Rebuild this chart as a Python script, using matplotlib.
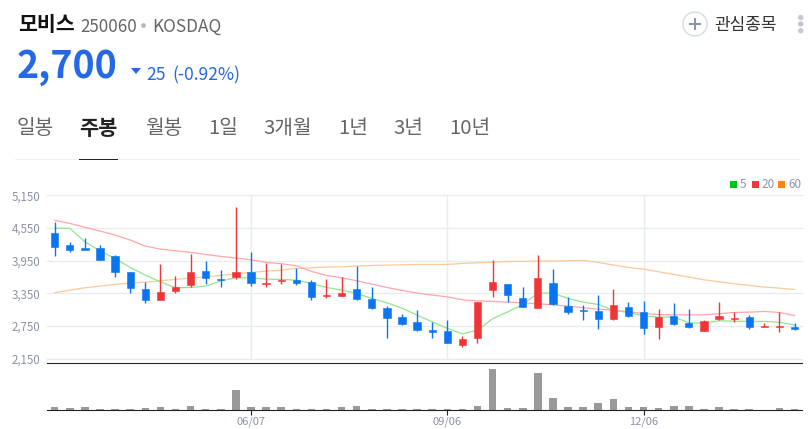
import matplotlib
matplotlib.use('Agg')
import matplotlib.pyplot as plt
from matplotlib.patches import Circle, Polygon, Rectangle
from matplotlib.transforms import IdentityTransform

plt.rcParams['font.family'] = ['Noto Sans CJK KR', 'DejaVu Sans']

W, H = 808, 429

opens = [4450, 4229, 4174, 4180, 4033, 3732, 3432, 3229, 3395, 3493, 3757, 3609, 3646, 3738, 3517, 3579, 3591,
         3548, 3297, 3297, 3432, 3241, 3076, 2910, 2818, 2665, 2653, 2401, 2518, 3413, 3524, 3260, 3076, 3536,
         3113, 3045, 3021, 2880, 3094, 3002, 2726, 2929, 2800, 2659, 2874, 2880, 2910, 2726, 2733, 2726]
closes = [4204, 4149, 4137, 3965, 3738, 3450, 3223, 3370, 3462, 3738, 3622, 3585, 3738, 3530, 3530, 3591, 3542,
          3284, 3309, 3352, 3248, 3082, 2898, 2788, 2665, 2640, 2444, 2512, 3180, 3554, 3309, 3094, 3628, 3156,
          2996, 3027, 2880, 3131, 2929, 2714, 2904, 2782, 2726, 2831, 2929, 2892, 2726, 2739, 2745, 2696]
highs = [4658, 4296, 4358, 4229, 4045, 3732, 3554, 3892, 3665, 4069, 3941, 3775, 4934, 4106, 3898, 3885, 3812,
         3591, 3616, 3640, 3855, 3456, 3107, 2966, 3039, 2812, 2849, 2567, 3180, 3953, 3524, 3456, 4051, 3793,
         3278, 3131, 3309, 3426, 3186, 3205, 3051, 3168, 3058, 2849, 3186, 2996, 2947, 2800, 2996, 2800]
lows = [4033, 4112, 4137, 3959, 3646, 3352, 3174, 3229, 3352, 3456, 3517, 3468, 3616, 3487, 3468, 3517, 3499,
        3223, 3260, 3297, 3229, 3058, 2530, 2763, 2653, 2530, 2438, 2365, 2444, 3272, 3192, 3088, 3076, 3131,
        2966, 2855, 2696, 2855, 2910, 2598, 2506, 2763, 2708, 2659, 2855, 2818, 2696, 2726, 2628, 2671]
ma5 = [4548, 4542, 4296, 4125, 3990, 3824, 3683, 3560, 3450, 3456, 3481, 3573, 3634, 3634, 3609, 3603, 3591,
       3530, 3456, 3407, 3346, 3254, 3174, 3076, 2947, 2824, 2702, 2604, 2671, 2880, 3008, 3143, 3352, 3352,
       3254, 3186, 3143, 3033, 2996, 2935, 2910, 2910, 2806, 2800, 2843, 2837, 2831, 2831, 2818, 2763]
ma20 = [4689, 4634, 4560, 4493, 4419, 4327, 4217, 4161, 4131, 4100, 4063, 4027, 3996, 3965, 3916, 3892, 3855,
        3751, 3677, 3634, 3579, 3517, 3456, 3401, 3352, 3315, 3284, 3229, 3211, 3199, 3186, 3174, 3156, 3137,
        3113, 3082, 3058, 3039, 3008, 2978, 2959, 2953, 2953, 2953, 2972, 2996, 3002, 3015, 2996, 2941]
ma60 = [3358, 3407, 3450, 3481, 3511, 3536, 3554, 3579, 3603, 3628, 3652, 3677, 3708, 3732, 3757, 3775, 3806,
        3818, 3830, 3836, 3849, 3861, 3867, 3873, 3879, 3879, 3879, 3898, 3910, 3922, 3935, 3935, 3941, 3941,
        3947, 3953, 3916, 3867, 3824, 3793, 3744, 3695, 3646, 3597, 3560, 3524, 3493, 3462, 3444, 3419]
volumes = [10, 6, 9, 5, 4, 4, 7, 9, 3, 13, 5, 5, 61, 9, 9, 9, 5, 5, 5, 10, 13, 5, 5, 4, 5,
           5, 5, 4, 13, 124, 7, 7, 112, 37, 9, 9, 22, 34, 10, 10, 7, 13, 13, 4, 10, 5, 5, 1, 7, 4]
price_ticks = [5150, 4550, 3950, 3350, 2750, 2150]
price_labels = ['5,150', '4,550', '3,950', '3,350', '2,750', '2,150']
date_ticks = [13, 26, 39]
date_labels = ['06/07', '09/06', '12/06']
tabs = ['일봉', '주봉', '월봉', '1일', '3개월', '1년', '3년', '10년']
tab_x = [17, 80, 145, 208, 263, 338, 393, 449]

BLUE = '#0a75f0'
RED = '#f03538'
GREY = '#8b93a3'
HEAD = '#2468e5'
PX = IdentityTransform()


def px_rect(left, top, right, bottom):
    return [left / W, 1 - bottom / H, (right - left) / W, (bottom - top) / H]


def label(x, y, s, **kw):
    # the CJK font sits high when centred, so push it down a bit
    fig.text(x / W, 1 - (y + 2) / H, s, va='center', **kw)


def box(left, top, right, bottom, color):
    fig.add_artist(Rectangle((left, H - bottom), right - left, bottom - top, transform=PX, color=color, lw=0))


def dot(x, y, r, **kw):
    fig.add_artist(Circle((x, H - y), r, transform=PX, **kw))


fig = plt.figure(figsize=(W / 100, H / 100), dpi=100)

# price panel
ax = fig.add_axes(px_rect(47, 195.3, 801.5, 358.5))
ax.set_xlim(-0.51, 49.46)
ax.set_ylim(2150, 5150)
for s in ax.spines.values():
    s.set_visible(False)
ax.set_yticks(price_ticks)
ax.set_yticklabels(price_labels, color=GREY, fontsize=8.3, va='center_baseline')
ax.set_xticks(date_ticks)
ax.set_xticklabels([])
ax.tick_params(length=0, pad=4.5)
ax.grid(True, color='#e8ebef', lw=1)
for t in ax.yaxis.get_gridlines():
    t.set_clip_on(False)
ax.set_axisbelow(True)

xs = list(range(len(opens)))
ax.plot(xs, ma60, color='#fcc999', lw=0.9, zorder=2)
ax.plot(xs, ma20, color='#ffa6aa', lw=0.9, zorder=2)
ax.plot(xs, ma5, color='#92e58e', lw=0.9, zorder=2)

colors = [RED if c >= o else BLUE for o, c in zip(opens, closes)]
ax.vlines(xs, lows, highs, colors=colors, lw=1.0, zorder=3)
bottoms = [min(o, c) for o, c in zip(opens, closes)]
heights = [abs(c - o) for o, c in zip(opens, closes)]
ax.bar(xs, heights, 0.48, bottom=bottoms, color=colors, edgecolor=colors, lw=0.4, zorder=4)

# volume panel
vax = fig.add_axes(px_rect(47, 363.3, 801.5, 410.3))
vax.set_xlim(-0.51, 49.46)
vax.set_ylim(0, 141)
vax.bar(xs, volumes, 0.5, color='#999999')
vax.set_yticks([])
vax.set_xticks(date_ticks)
vax.set_xticklabels(date_labels, color=GREY, fontsize=8)
vax.tick_params(axis='x', length=3.5, width=0.8, color='#222222', pad=1)
vax.spines['left'].set_visible(False)
vax.spines['right'].set_visible(False)
vax.spines['top'].set_color('#222222')
vax.spines['bottom'].set_color('#222222')

# header
label(18, 22.5, '모비스', fontsize=14.8, fontweight='bold', color='#111111')
label(80, 25, '250060', fontsize=12.2, color='#666666')
dot(143.5, 25.5, 1.7, color='#b5b8bd')
label(152, 25, 'KOSDAQ', fontsize=12.4, color='#666666')
label(17, 65, '2,700', fontsize=27, fontweight='bold', color=HEAD)
fig.add_artist(Polygon([(131, H - 68), (141, H - 68), (136, H - 74)], transform=PX, color=HEAD, lw=0))
label(146, 73, '25', fontsize=12.6, color=HEAD)
label(172, 73, '(-0.92%)', fontsize=12.6, color=HEAD)

for name, x in zip(tabs, tab_x):
    if name == '주봉':
        label(x - 0.5, 126.5, name, fontsize=15, fontweight='bold', color='#222222')
    else:
        label(x, 126.5, name, fontsize=14.6, color='#666666')
box(15, 159, 800, 160, '#efefef')
box(79, 158.8, 118, 160, '#222222')

# watchlist button
dot(695, 24, 12, fc='white', ec='#d8dde5', lw=1.1)
box(689, 23, 701, 25, '#8b93a5')
box(694, 18, 696, 30, '#8b93a5')
label(714, 23, '관심종목', fontsize=12.2, color='#333333')
for y in [17.5, 24, 30.7]:
    dot(800.7, y, 2, color='#c5c8ce')

# legend
for x, c, s, tx in [(730, '#00c31a', '5', 740), (752, '#f9333a', '20', 761), (778, '#ff8412', '60', 788)]:
    box(x, 181, x + 7, 187.7, c)
    label(tx, 182.5, s, fontsize=8.4, color=GREY)

fig.savefig('out.png', dpi=100)
